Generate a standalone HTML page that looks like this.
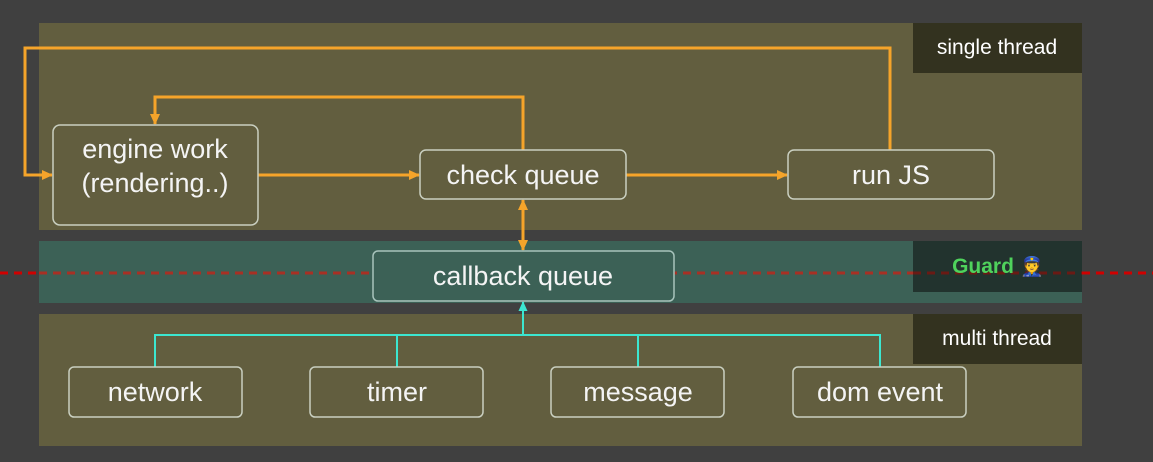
<!DOCTYPE html>
<html><head><style>
body{margin:0;width:1153px;height:462px;background:#404040;overflow:hidden;font-family:"Liberation Sans","DejaVu Sans",sans-serif}
</style></head><body>
<svg width="1153" height="462" xmlns="http://www.w3.org/2000/svg" style="position:absolute;left:0;top:0">
<defs>
<marker id="o" markerWidth="11" markerHeight="10" refX="10" refY="5" orient="auto-start-reverse" markerUnits="userSpaceOnUse"><path d="M0,0 L11,5 L0,10 z" fill="#f5a42a"/></marker>
<marker id="c" markerWidth="10" markerHeight="9" refX="9" refY="4.5" orient="auto" markerUnits="userSpaceOnUse"><path d="M0,0 L10,4.5 L0,9 z" fill="#3ce6d0"/></marker>
</defs>
<rect x="39" y="23" width="1043" height="207" fill="#625e3f"/>
<rect x="39" y="241" width="1043" height="62" fill="#3c6156"/>
<rect x="39" y="314" width="1043" height="132" fill="#625e3f"/>
<rect x="913" y="23" width="169" height="50" fill="#33321f"/>
<rect x="913" y="241" width="169" height="51" fill="#22332e"/>
<rect x="913" y="314" width="169" height="50" fill="#33321f"/>
<line x1="0" y1="273" x2="39" y2="273" stroke="#d00000" stroke-width="3" stroke-dasharray="8,6"/>
<line x1="39" y1="273" x2="913" y2="273" stroke="#a83024" stroke-width="3" stroke-dasharray="8,6"/>
<line x1="913" y1="273" x2="1082" y2="273" stroke="#6a1a14" stroke-width="3" stroke-dasharray="8,6"/>
<line x1="1082" y1="273" x2="1153" y2="273" stroke="#d00000" stroke-width="3" stroke-dasharray="8,6"/>
<g font-size="21" fill="#fff" text-anchor="middle">
<text x="997" y="54">single thread</text>
<text x="997" y="345">multi thread</text>
</g>
<text x="983" y="273" font-size="21" font-weight="bold" fill="#4fd25c" text-anchor="middle">Guard</text>
<text x="1032" y="273" font-size="19" text-anchor="middle">👮</text>
<g fill="none" stroke="#f5a42a" stroke-width="3">
<polyline points="890,150 890,48 25,48 25,175 52,175" marker-end="url(#o)"/>
<polyline points="523,150 523,97 155,97 155,124" marker-end="url(#o)"/>
<line x1="258" y1="175" x2="419" y2="175" marker-end="url(#o)"/>
<line x1="626" y1="175" x2="787" y2="175" marker-end="url(#o)"/>
<line x1="523" y1="200" x2="523" y2="250" marker-start="url(#o)" marker-end="url(#o)"/>
</g>
<g fill="none" stroke="#3ce6d0" stroke-width="2">
<polyline points="155,367 155,335 880,335 880,367"/>
<line x1="397" y1="335" x2="397" y2="367"/>
<line x1="638" y1="335" x2="638" y2="367"/>
<line x1="523" y1="335" x2="523" y2="302" marker-end="url(#c)"/>
</g>
<g fill="none" stroke="#c9cfc0" stroke-width="1.5">
<rect x="53" y="125" width="205" height="100" rx="7"/>
<rect x="420" y="150" width="206" height="49" rx="6"/>
<rect x="788" y="150" width="206" height="49" rx="6"/>
<rect x="69" y="367" width="173" height="50" rx="5"/>
<rect x="310" y="367" width="173" height="50" rx="5"/>
<rect x="551" y="367" width="173" height="50" rx="5"/>
<rect x="793" y="367" width="173" height="50" rx="5"/>
</g>
<rect x="373" y="251" width="301" height="50" rx="5" fill="#3c6156" stroke="#a8c4bc" stroke-width="1.5"/>
<g font-size="27" fill="#f4f4f4" text-anchor="middle">
<text x="155" y="158">engine work</text>
<text x="155" y="192">(rendering..)</text>
<text x="523" y="184">check queue</text>
<text x="891" y="184">run JS</text>
<text x="523" y="285">callback queue</text>
<text x="155" y="401">network</text>
<text x="397" y="401">timer</text>
<text x="638" y="401">message</text>
<text x="880" y="401">dom event</text>
</g>
</svg>
</body></html>
